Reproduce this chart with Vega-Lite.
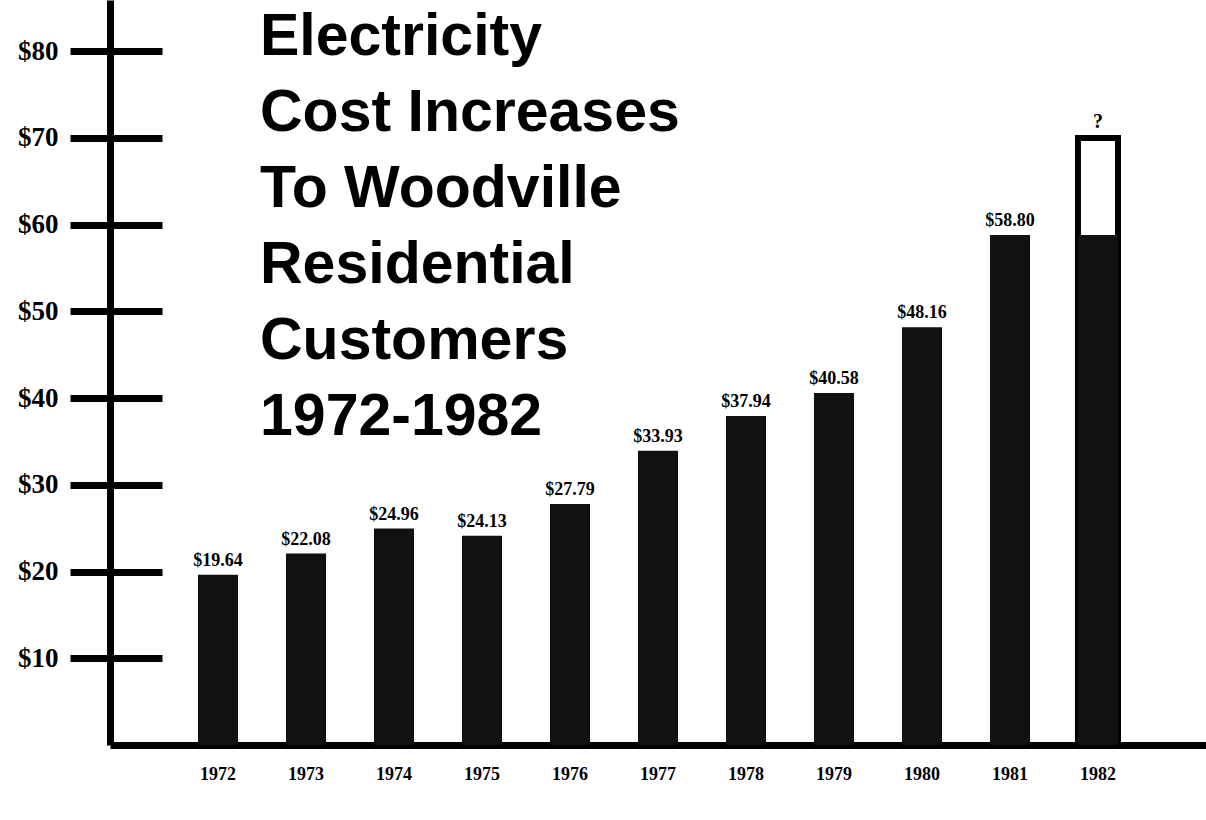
{
  "$schema": "https://vega.github.io/schema/vega-lite/v6.json",
  "autosize": "none",
  "width": 1096,
  "height": 745,
  "padding": {"left": 110, "top": 0, "right": 0, "bottom": 75},
  "background": "white",
  "config": {"view": {"stroke": null}},
  "title": {
    "text": ["Electricity", "Cost Increases", "To Woodville", "Residential", "Customers", "1972-1982"],
    "orient": "top",
    "anchor": "start",
    "frame": "group",
    "baseline": "alphabetic",
    "offset": 0,
    "dx": 150,
    "dy": 494,
    "font": "Liberation Sans",
    "fontWeight": "bold",
    "fontSize": 59,
    "lineHeight": 76,
    "color": "#000000"
  },
  "data": {
    "values": [
      {"year": "1972", "cost": 19.64, "label": "$19.64"},
      {"year": "1973", "cost": 22.08, "label": "$22.08"},
      {"year": "1974", "cost": 24.96, "label": "$24.96"},
      {"year": "1975", "cost": 24.13, "label": "$24.13"},
      {"year": "1976", "cost": 27.79, "label": "$27.79"},
      {"year": "1977", "cost": 33.93, "label": "$33.93"},
      {"year": "1978", "cost": 37.94, "label": "$37.94"},
      {"year": "1979", "cost": 40.58, "label": "$40.58"},
      {"year": "1980", "cost": 48.16, "label": "$48.16"},
      {"year": "1981", "cost": 58.80, "label": "$58.80"},
      {"year": "1982", "cost": 58.80, "label": "", "projected": 70, "mark": "?"}
    ]
  },
  "encoding": {
    "x": {
      "field": "year",
      "type": "ordinal",
      "sort": ["1972", "1973", "1974", "1975", "1976", "1977", "1978", "1979", "1980", "1981", "1982"],
      "scale": {"domain": ["1972", "1973", "1974", "1975", "1976", "1977", "1978", "1979", "1980", "1981", "1982"], "paddingInner": 0.545, "paddingOuter": 1.0},
      "axis": {
        "title": null,
        "orient": "bottom",
        "domain": true,
        "domainColor": "#000000",
        "domainWidth": 7,
        "ticks": false,
        "labelAngle": 0,
        "labelFont": "Liberation Serif",
        "labelFontWeight": "bold",
        "labelFontSize": 18,
        "labelColor": "#000000",
        "labelPadding": 20
      }
    }
  },
  "resolve": {"axis": {"y": "independent"}},
  "layer": [
    {
      "transform": [{"filter": "isValid(datum.projected)"}],
      "mark": {"type": "bar", "fill": "#ffffff", "stroke": "#000000", "strokeWidth": 6},
      "encoding": {
        "y": {"field": "projected", "type": "quantitative", "scale": {"domain": [0, 85.9], "nice": false, "zero": true}, "axis": null}
      }
    },
    {
      "mark": {"type": "bar", "fill": "#111111"},
      "encoding": {
        "y": {
          "field": "cost",
          "type": "quantitative",
          "scale": {"domain": [0, 85.9], "nice": false, "zero": true},
          "axis": {
            "orient": "left",
            "title": null,
            "values": [10, 20, 30, 40, 50, 60, 70, 80],
            "labelExpr": "'$' + datum.value",
            "domain": true,
            "domainColor": "#000000",
            "domainWidth": 7,
            "ticks": true,
            "tickColor": "#000000",
            "tickSize": 40,
            "tickWidth": 7,
            "grid": false,
            "labelFont": "Liberation Serif",
            "labelFontWeight": "bold",
            "labelFontSize": 27,
            "labelColor": "#000000",
            "labelPadding": 12
          }
        }
      }
    },
    {
      "transform": [{"filter": "datum.label != ''"}],
      "mark": {"type": "text", "baseline": "bottom", "dy": -5, "font": "Liberation Serif", "fontWeight": "bold", "fontSize": 18, "color": "#000000"},
      "encoding": {
        "y": {
          "field": "cost",
          "type": "quantitative",
          "scale": {"domain": [0, 85.9], "nice": false, "zero": true},
          "axis": {
            "orient": "left",
            "title": null,
            "offset": -52,
            "values": [10, 20, 30, 40, 50, 60, 70, 80],
            "domain": false,
            "labels": false,
            "ticks": true,
            "tickColor": "#000000",
            "tickSize": 52,
            "tickWidth": 7,
            "grid": false
          }
        },
        "text": {"field": "label"}
      }
    },
    {
      "transform": [{"filter": "isValid(datum.projected)"}],
      "mark": {"type": "text", "baseline": "bottom", "dy": -6, "font": "Liberation Serif", "fontWeight": "bold", "fontSize": 20, "color": "#000000"},
      "encoding": {
        "y": {"field": "projected", "type": "quantitative", "scale": {"domain": [0, 85.9], "nice": false, "zero": true}, "axis": null},
        "text": {"field": "mark"}
      }
    }
  ]
}
